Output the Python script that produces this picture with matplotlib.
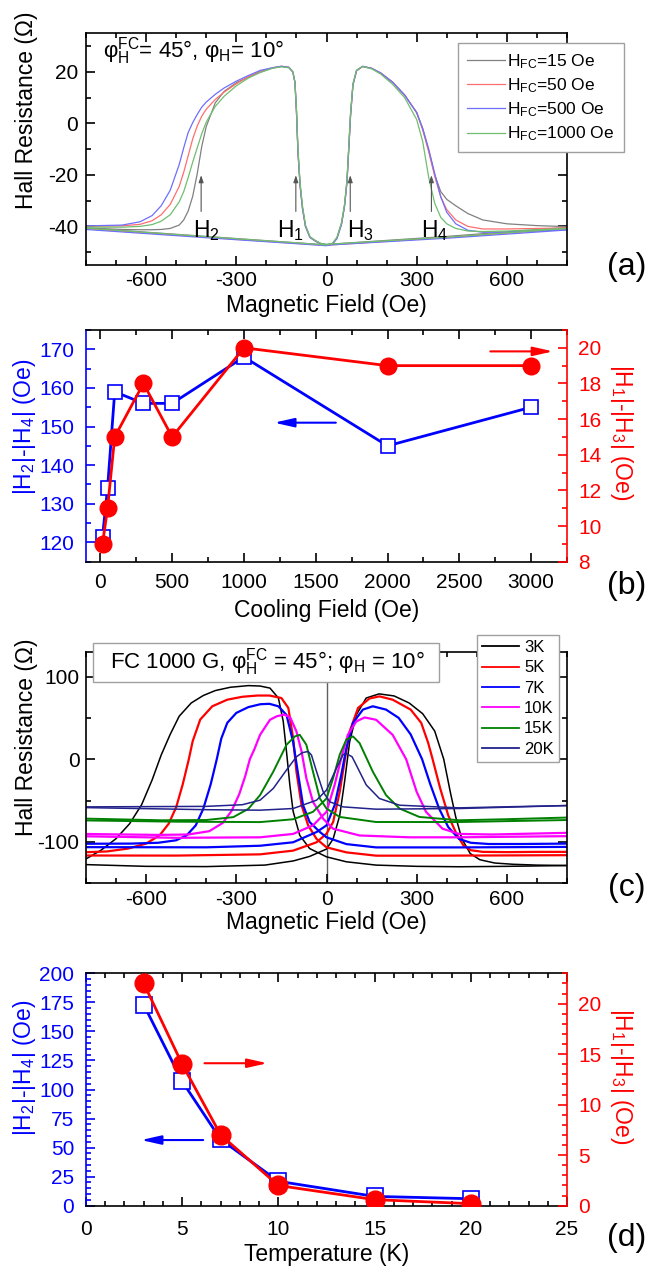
import matplotlib
matplotlib.use('Agg')
import matplotlib.pyplot as plt
from matplotlib.ticker import MultipleLocator
from matplotlib.patches import Rectangle

plt.rcParams['font.family'] = ['Liberation Sans', 'DejaVu Sans']
plt.rcParams['mathtext.fontset'] = 'custom'
plt.rcParams['mathtext.rm'] = 'Liberation Sans'
plt.rcParams['mathtext.it'] = 'Liberation Sans:italic'
plt.rcParams['mathtext.bf'] = 'Liberation Sans:bold'
plt.rcParams['mathtext.default'] = 'regular'
plt.rcParams['axes.unicode_minus'] = False

# ---------------- Panel (a) data: Hall loops for several cooling fields ----------------
a_labels = [r'H$_{FC}$=15 Oe', r'H$_{FC}$=50 Oe', r'H$_{FC}$=500 Oe', r'H$_{FC}$=1000 Oe']
a_H_down = [800, 400, 0, -20, -40, -55, -70, -80, -88, -95, -100, -105, -112, -125, -150, -180, -220,
            -260, -300, -340, -370, -400, -415, -430, -445, -460, -475, -490, -520, -550, -580, -620, -680, -800]
a_down_15 = [-40.4, -43.9, -47.0, -46.6, -45.3, -44.1, -39.8, -32.5, -23.5, -10.5, 5, 16, 20, 21.7, 22.1, 21.5, 19.9,
             18.0, 15.8, 12.5, 8, -1.2, -9, -19.5, -28.3, -34, -37.5, -39.5, -40.8, -41.2, -41.3, -41.3, -41.2, -40.6]
a_down_50 = [-41.0, -44.3, -47.3, -46.8, -45.5, -44.3, -40, -33, -24, -11, 5, 16, 20, 21.8, 22.2, 21.6, 20.3,
             18.1, 15.4, 12.2, 9.3, 5.5, 2.8, -1, -6, -12.5, -19, -24.5, -31.5, -35.5, -37.8, -39.2, -39.8, -40]
a_down_500 = [-41.4, -44.6, -47.3, -46.8, -45.5, -44.3, -40, -33, -24, -11, 5, 16, 20, 21.8, 22.2, 21.6, 20.6,
              18.6, 16.4, 13.8, 11.3, 8.3, 6.3, 3.5, 0.3, -3.5, -9.5, -16, -26, -32, -35.8, -38.2, -39.5, -39.8]
a_down_1000 = [-40.8, -44.2, -47.0, -46.6, -45.3, -44.0, -39.5, -32, -23, -10, 5.5, 16, 20, 21.6, 22, 21.4, 19.8,
               17.6, 14.6, 10.6, 6.6, 0.5, -4, -9.5, -15, -21, -26.5, -30.5, -35.5, -38, -39.3, -40, -40.3, -40.3]

a_H_up = [-800, -400, 0, 20, 35, 50, 60, 68, 75, 80, 88, 100, 120, 150, 180, 220, 260,
          300, 320, 340, 360, 380, 400, 430, 470, 520, 600, 700, 800]
a_up_15 = [-40.6, -43.9, -47.2, -46.6, -44.4, -38.8, -31.8, -22.5, -7.5, 3.5, 15, 20.5, 22.1, 21.4, 19.6, 16, 11,
           4.2, -2, -10.5, -20, -26.5, -29.5, -32, -35, -37.5, -39, -39.7, -40.1]
a_up_50 = [-40.9, -44.2, -47.4, -46.8, -44.5, -39, -32, -23, -8, 3, 15, 20.5, 22.1, 21.4, 19.6, 16, 11,
           4.2, -2.5, -11, -20.5, -28.5, -33.5, -37.5, -40, -41, -41, -40.8, -40.6]
a_up_500 = [-41.2, -44.4, -47.5, -46.9, -44.7, -39.2, -32.2, -23, -8, 3, 15, 20.5, 22.2, 21.4, 19.6, 16, 11,
            4.2, -2, -10, -19.5, -28.5, -34.5, -39, -41.5, -42.3, -42.2, -41.8, -41.3]
a_up_1000 = [-40.7, -44.0, -47.2, -46.6, -44.2, -38.5, -31.5, -22, -7, 4, 15.5, 20.7, 22.1, 21.2, 19.2, 15.2, 10,
             1.5, -7, -21, -31, -36.5, -39, -40.8, -41.8, -42, -41.8, -41.3, -40.8]

a_arrow_H = [-417, -102, 79, 349]
a_arrow_labels = [r'H$_2$', r'H$_1$', r'H$_3$', r'H$_4$']
a_label_H = [-444, -166, 68, 316]

# ---------------- Panel (b) data ----------------
b_field = [15, 50, 100, 300, 500, 1000, 2000, 3000]
b_H24 = [121.5, 134, 159, 156, 156, 168, 145, 155]
b_H13 = [9, 11, 15, 18, 15, 20, 19, 19]

# ---------------- Panel (c) data: loops at several temperatures ----------------
c_labels = ['3K', '5K', '7K', '10K', '15K', '20K']
c3_dn_H = [800, 600, 441, 300, 165, 66, 0, -56, -89, -111, -122, -133, -144, -160, -188, -221, -260,
           -320, -370, -410, -450, -490, -520, -550, -580, -615, -655, -700, -750, -800]
c3_dn_R = [-128.5, -129.5, -130, -129.5, -128, -124, -118, -108, -92, -63, -31, 9, 46, 74, 86, 88.5, 89,
           87, 83, 77, 68, 52, 30, 5, -25, -55, -78, -96, -110, -120.5]
c3_up_H = [-800, -600, -400, -205, -111, -56, 0, 22, 44, 60, 77, 99, 132, 175, 225, 275, 320,
           360, 390, 412, 430, 450, 478, 510, 560, 620, 700, 800]
c3_up_R = [-127.4, -129.5, -129.8, -128, -123, -117.5, -108.6, -96.4, -68, -27.5, 21, 53.5, 74, 79, 76.5, 68, 55,
           34, 0, -40, -70, -96, -114, -121.5, -125.5, -127, -128, -128.5]

c5_dn_H = [800, 600, 350, 165, 66, 0, -33, -61, -83, -100, -111, -127, -150, -190, -230, -280,
           -330, -380, -420, -445, -458, -478, -500, -525, -555, -600, -660, -730, -800]
c5_dn_R = [-116, -116.3, -116.6, -116.6, -112.6, -106.5, -96.4, -80, -55.6, -15, 25.5, 62, 74, 77, 77, 75.5,
           72, 64, 48, 22, 0, -30, -58, -78, -92, -102, -108, -111.5, -112.4]
c5_up_H = [-800, -500, -221, -111, -33, 0, 22, 44, 60, 77, 105, 143, 176, 220, 280, 315,
           338, 353, 378, 405, 432, 455, 480, 520, 600, 700, 800]
c5_up_R = [-116.4, -116.5, -115, -110.5, -100.4, -90, -76, -39.5, -3, 33.6, 62, 73.4, 76, 72, 60, 44,
           20, 0, -35, -68, -90, -104, -110, -112, -112.3, -112, -112]

c7_dn_H = [800, 441, 165, 66, 0, -22, -56, -78, -94, -111, -133, -160, -190, -220, -260,
           -300, -330, -350, -365, -385, -410, -435, -465, -500, -560, -650, -800]
c7_dn_R = [-106, -106.6, -106.6, -102.6, -94.4, -88, -76, -55.6, -19, 21, 53.5, 64, 67, 66.5, 63,
           56, 44, 25, 0, -30, -60, -80, -92, -98, -101, -102, -102.2]
c7_up_H = [-800, -400, -221, -111, -33, 0, 27, 49, 66, 88, 121, 154, 198, 240, 280, 318,
           345, 375, 405, 441, 480, 540, 650, 800]
c7_up_R = [-106.3, -106.5, -104.6, -100.4, -88, -80, -55.6, -19, 13.4, 43.8, 60, 64, 60, 50, 30, 0,
           -30, -60, -82, -96.4, -101, -102.5, -102.5, -102]

c10_dn_H = [800, 441, 276, 110, 22, -11, -45, -67, -83, -100, -120, -140, -165, -188, -221,
            -240, -255, -270, -290, -315, -345, -390, -460, -560, -800]
c10_dn_R = [-93, -94.4, -94.4, -92.2, -84, -72, -51.5, -23, 9.4, 33.6, 50, 54, 52, 47.7, 29.5,
            12, 0, -20, -42, -62, -77, -87, -91, -91.5, -90.4]
c10_up_H = [-800, -500, -221, -111, -45, 0, 27, 49, 71, 99, 127, 165, 220, 265, 300, 331, 386, 441, 550, 800]
c10_up_R = [-93.2, -95, -94.4, -90.3, -80, -63.6, -31, 1.4, 29.5, 45.7, 50.5, 47.7, 29.5, 0, -39.5, -63.6,
            -84, -90.3, -91, -89]

c15_dn_H = [800, 441, 165, 44, 0, -22, -45, -67, -89, -105, -133, -177, -221, -260, -310, -400, -550, -800]
c15_dn_R = [-73.5, -75.9, -75.9, -69.8, -59.6, -47.5, -15, 17.5, 29.5, 27.6, 17.5, -15, -43.4, -60, -70,
            -73.5, -73.8, -71.8]
c15_up_H = [-800, -500, -221, -111, -45, 0, 22, 44, 66, 88, 110, 154, 198, 243, 309, 441, 600, 800]
c15_up_R = [-74, -75.5, -76, -72.6, -63.6, -47.5, -23, 5.5, 23.7, 27.6, 19.5, -15, -43.4, -59.6, -69.8,
            -73.8, -72.5, -70.5]

c20_dn_H = [800, 441, 165, 55, 11, -11, -33, -50, -61, -80, -100, -133, -177, -221, -280, -400, -800]
c20_dn_R = [-56, -59.6, -60.4, -57.6, -51.5, -39.5, -15, 5, 9.4, 8, 3, -13, -35.3, -49.5, -55, -57, -57.6]
c20_up_H = [-800, -400, -221, -111, -33, 0, 33, 55, 65, 85, 99, 132, 176, 243, 441, 600, 800]
c20_up_R = [-58.5, -61, -61.6, -59.6, -49.5, -37.3, -11, 5.5, 7, 3, -7, -31, -47.5, -55.6, -58.8, -57.5, -56]

# ---------------- Panel (d) data ----------------
d_T = [3, 5, 7, 10, 15, 20]
d_H24 = [173, 107, 57, 21, 8, 6]
d_H13 = [22, 14, 7, 2, 0.6, 0.2]

# ---------------- figure ----------------
FW, FH = 649, 1266
fig = plt.figure(figsize=(FW / 100, FH / 100), dpi=100)


def rect(l, t, r, b):
    return [l / FW, 1 - b / FH, (r - l) / FW, (b - t) / FH]


def fx(x):
    return x / FW


def fy(y):
    return 1 - y / FH


TICK = 15
LAB = 16.5
BLUE = '#0000ff'
RED = '#ff0000'


def style(ax, xmaj, xmin, ymaj, ymin, padx, pady, right=True, top=True):
    ax.xaxis.set_major_locator(MultipleLocator(xmaj))
    ax.xaxis.set_minor_locator(MultipleLocator(xmin))
    ax.yaxis.set_major_locator(MultipleLocator(ymaj))
    ax.yaxis.set_minor_locator(MultipleLocator(ymin))
    ax.tick_params(which='both', direction='in', top=top, right=right, width=1.2, labelsize=TICK)
    ax.tick_params(which='major', length=6.5)
    ax.tick_params(which='minor', length=3.8)
    ax.tick_params(axis='x', which='both', pad=padx)
    ax.tick_params(axis='y', which='both', pad=pady)
    for s in ax.spines.values():
        s.set_linewidth(1.2)


arrow_big = '-|>,head_length=0.8,head_width=0.18'

# ---------- (a) ----------
axA = fig.add_axes(rect(86, 33.3, 567, 265))
colsA = ['#808080', '#ff6e6e', '#6e6eff', '#6fbf6f']
downs = [a_down_15, a_down_50, a_down_500, a_down_1000]
ups = [a_up_15, a_up_50, a_up_500, a_up_1000]
for dn, up, c, l in zip(downs, ups, colsA, a_labels):
    axA.plot(a_H_down, dn, color=c, lw=0.9, label=l)
    axA.plot(a_H_up, up, color=c, lw=0.9)
axA.set_xlim(-800, 800)
axA.set_ylim(-55, 35)
style(axA, 300, 100, 20, 10, 4.2, 5.8)
for hx in a_arrow_H:
    axA.annotate('', xy=(hx, -20.1), xytext=(hx, -34.2),
                 arrowprops=dict(arrowstyle='-|>,head_length=0.6,head_width=0.2', color='#555555',
                                 lw=0.8, mutation_scale=7, shrinkA=0, shrinkB=0))
for txt, hx in zip(a_arrow_labels, a_label_H):
    axA.text(hx, -44, txt, fontsize=16.5, ha='left', va='baseline')
axA.text(0.036, 0.8964, r'φ$_H^{FC}$= 45°, φ$_H$= 10°', transform=axA.transAxes,
         fontsize=16, ha='left', va='baseline')
legA = axA.legend(loc='upper left', bbox_to_anchor=(fx(458), fy(43.3)), bbox_transform=fig.transFigure,
                  borderaxespad=0, fontsize=12.5, handlelength=2.2, handletextpad=0.15, borderpad=0.5,
                  labelspacing=0.32, fancybox=False, edgecolor='#a0a0a0', framealpha=1)
legA.get_frame().set_linewidth(1.0)
legA.set_zorder(12)

# ---------- (b) ----------
axB = fig.add_axes(rect(86, 330, 567, 561.7))
axB.plot(b_field, b_H24, '-s', color=BLUE, lw=2, ms=10, mfc='white', mec=BLUE, mew=1.2)
axB.set_xlim(-100, 3250)
axB.set_ylim(115, 175)
style(axB, 500, 250, 10, 5, 8, 8.6, right=False)
axB.tick_params(axis='y', which='both', colors=BLUE)
axB.spines['left'].set_color(BLUE)
axB.spines['right'].set_visible(False)
axB2 = axB.twinx()
axB2.plot(b_field, b_H13, '-o', color=RED, lw=2, ms=12)
axB2.set_ylim(8, 21)
axB2.yaxis.set_major_locator(MultipleLocator(2))
axB2.yaxis.set_minor_locator(MultipleLocator(1))
axB2.tick_params(axis='y', which='both', direction='in', colors=RED, labelsize=TICK, width=1.2, pad=8)
axB2.tick_params(axis='y', which='major', length=6.5)
axB2.tick_params(axis='y', which='minor', length=3.8)
axB2.spines['right'].set_color(RED)
axB2.spines['right'].set_linewidth(1.2)
for s in ['left', 'top', 'bottom']:
    axB2.spines[s].set_visible(False)
axB.annotate('', xy=(1210, 151), xytext=(1640, 151),
             arrowprops=dict(arrowstyle=arrow_big, color=BLUE, lw=1.5, mutation_scale=15, shrinkA=0, shrinkB=0))
axB2.annotate('', xy=(3153, 19.8), xytext=(2716, 19.8),
              arrowprops=dict(arrowstyle=arrow_big, color=RED, lw=1.5, mutation_scale=15, shrinkA=0, shrinkB=0))

# ---------- (c) ----------
axC = fig.add_axes(rect(86, 651.7, 567, 883.3))
colsC = ['#000000', '#ff0000', '#0000ff', '#ff00ff', '#008000', '#22228a']
lwsC = [1.1, 1.6, 1.6, 1.6, 1.4, 1.1]
c_dn_H = [c3_dn_H, c5_dn_H, c7_dn_H, c10_dn_H, c15_dn_H, c20_dn_H]
c_dn_R = [c3_dn_R, c5_dn_R, c7_dn_R, c10_dn_R, c15_dn_R, c20_dn_R]
c_up_H = [c3_up_H, c5_up_H, c7_up_H, c10_up_H, c15_up_H, c20_up_H]
c_up_R = [c3_up_R, c5_up_R, c7_up_R, c10_up_R, c15_up_R, c20_up_R]
axC.axvline(0, color='#606060', lw=1.0, zorder=1.5)
for hd, rd, hu, ru, c, w, l in zip(c_dn_H, c_dn_R, c_up_H, c_up_R, colsC, lwsC, c_labels):
    axC.plot(hd, rd, color=c, lw=w, label=l)
    axC.plot(hu, ru, color=c, lw=w)
axC.set_xlim(-800, 800)
axC.set_ylim(-150, 130)
style(axC, 300, 100, 100, 50, 4.8, 4.6)
axC.add_patch(Rectangle((0.01455, 0.8705), 0.7193, 0.1684, transform=axC.transAxes, clip_on=False,
                        facecolor='white', edgecolor='#a0a0a0', lw=1.0, zorder=10))
axC.text(0.0495, 0.9555, r'FC 1000 G, φ$_H^{FC}$ = 45°; φ$_H$ = 10°', transform=axC.transAxes,
         fontsize=16, ha='left', va='center', zorder=11)
legC = axC.legend(loc='upper left', bbox_to_anchor=(fx(476.6), fy(635)), bbox_transform=fig.transFigure,
                  borderaxespad=0, fontsize=12, handlelength=2.24, handletextpad=0.3, borderpad=0.3,
                  labelspacing=0.32, fancybox=False, edgecolor='#a0a0a0', framealpha=1)
legC.get_frame().set_linewidth(1.0)
for ln in legC.get_lines():
    ln.set_linewidth(1.3)
legC.set_zorder(12)

# ---------- (d) ----------
axD = fig.add_axes(rect(86, 973.3, 567, 1205.7))
axD.plot(d_T, d_H24, '-s', color=BLUE, lw=2, ms=11, mfc='white', mec=BLUE, mew=1.2)
axD.set_xlim(0, 25)
axD.set_ylim(0, 200)
style(axD, 5, 1, 25, 5, 10, 8.6, right=False)
axD.tick_params(axis='y', which='both', colors=BLUE)
axD.spines['left'].set_color(BLUE)
axD.spines['right'].set_visible(False)
axD2 = axD.twinx()
axD2.plot(d_T, d_H13, '-o', color=RED, lw=2, ms=13.5)
axD2.set_ylim(0, 23)
axD2.yaxis.set_major_locator(MultipleLocator(5))
axD2.yaxis.set_minor_locator(MultipleLocator(1))
axD2.tick_params(axis='y', which='both', direction='in', colors=RED, labelsize=TICK, width=1.2, pad=8)
axD2.tick_params(axis='y', which='major', length=6.5)
axD2.tick_params(axis='y', which='minor', length=3.8)
axD2.spines['right'].set_color(RED)
axD2.spines['right'].set_linewidth(1.2)
for s in ['left', 'top', 'bottom']:
    axD2.spines[s].set_visible(False)
axD2.annotate('', xy=(9.43, 14.1), xytext=(6.16, 14.1),
              arrowprops=dict(arrowstyle=arrow_big, color=RED, lw=1.5, mutation_scale=15, shrinkA=0, shrinkB=0))
axD.annotate('', xy=(2.86, 56.5), xytext=(6.09, 56.5),
             arrowprops=dict(arrowstyle=arrow_big, color=BLUE, lw=1.5, mutation_scale=15, shrinkA=0, shrinkB=0))

# ---------- axis labels & panel tags ----------
fig.text(fx(27), fy(110), 'Hall Resistance (Ω)', rotation=90, ha='center', va='center', fontsize=LAB)
fig.text(fx(326.5), fy(306), 'Magnetic Field (Oe)', ha='center', va='center', fontsize=LAB)
fig.text(fx(24.9), fy(426.7), r'|H$_2$|-|H$_4$| (Oe)', rotation=90, ha='center', va='center',
         fontsize=LAB, color=BLUE)
fig.text(fx(621.6), fy(432), r'|H$_1$|-|H$_3$| (Oe)', rotation=270, ha='center', va='center',
         fontsize=LAB, color=RED)
fig.text(fx(326.5), fy(610), 'Cooling Field (Oe)', ha='center', va='center', fontsize=LAB)
fig.text(fx(27), fy(737.5), 'Hall Resistance (Ω)', rotation=90, ha='center', va='center', fontsize=LAB)
fig.text(fx(326.5), fy(922.5), 'Magnetic Field (Oe)', ha='center', va='center', fontsize=LAB)
fig.text(fx(24.9), fy(1068), r'|H$_2$|-|H$_4$| (Oe)', rotation=90, ha='center', va='center',
         fontsize=LAB, color=BLUE)
fig.text(fx(621.6), fy(1076), r'|H$_1$|-|H$_3$| (Oe)', rotation=270, ha='center', va='center',
         fontsize=LAB, color=RED)
fig.text(fx(327), fy(1254), 'Temperature (K)', ha='center', va='center', fontsize=LAB)

for tag, yy in zip(['(a)', '(b)', '(c)', '(d)'], [266.7, 586, 888, 1238]):
    fig.text(fx(626.5), fy(yy), tag, ha='center', va='center', fontsize=23)

fig.savefig('out.png', dpi=100)
